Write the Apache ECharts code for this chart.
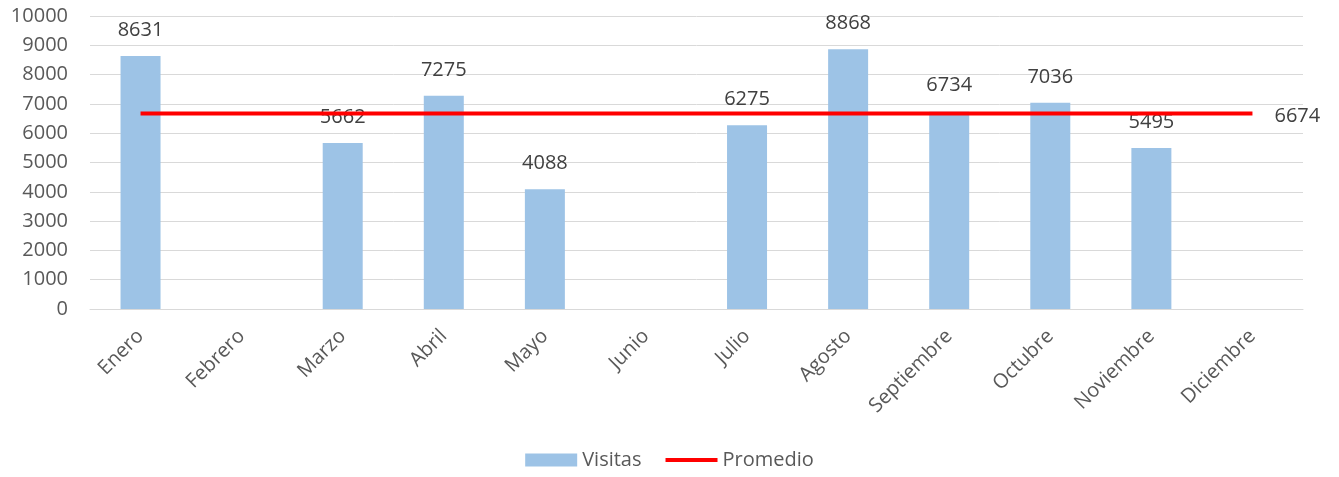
<!DOCTYPE html>
<html>
<head>
<meta charset="utf-8">
<script src="https://cdn.jsdelivr.net/npm/echarts@6/dist/echarts.min.js"></script>
<style>
  html, body { margin: 0; padding: 0; background: #fff; }
  #chart { width: 1339px; height: 477px; }
</style>
</head>
<body>
<div id="chart"></div>
<script>
const months = ['Enero', 'Febrero', 'Marzo', 'Abril', 'Mayo', 'Junio', 'Julio', 'Agosto',
  'Septiembre', 'Octubre', 'Noviembre', 'Diciembre']
const visitas = [8631, null, 5662, 7275, 4088, null, 6275, 8868, 6734, 7036, 5495, null]
const promedio = [6674, 6674, 6674, 6674, 6674, 6674, 6674, 6674, 6674, 6674, 6674, 6674]
const yTicks = { min: 0, max: 10000, interval: 1000 }

const textColor = '#595959'
const labelColor = '#404040'
const font = '"Open Sans", sans-serif'
const fs = 20

const chart = echarts.init(document.getElementById('chart'))

chart.setOption({
  animation: false,
  textStyle: { fontFamily: font },
  grid: { left: 90, right: 36, top: 16, bottom: 168, containLabel: false },
  legend: {
    bottom: 2,
    left: 'center',
    itemGap: 24,
    itemWidth: 52,
    itemHeight: 13,
    textStyle: { color: textColor, fontSize: fs, fontFamily: font },
    data: [
      { name: 'Visitas', icon: 'rect' },
      { name: 'Promedio', icon: 'path://M0,0 L54,0 L54,4 L0,4 Z' },
    ],
  },
  xAxis: {
    type: 'category',
    data: months,
    axisLine: { lineStyle: { color: '#D9D9D9', width: 1 } },
    axisTick: { show: false },
    axisLabel: { rotate: 45, margin: 24, color: textColor, fontSize: fs, fontFamily: font, interval: 0 },
  },
  yAxis: {
    type: 'value',
    min: yTicks.min,
    max: yTicks.max,
    interval: yTicks.interval,
    axisLine: { show: false },
    axisTick: { show: false },
    axisLabel: { color: textColor, fontSize: fs, fontFamily: font, margin: 22, formatter: (v) => String(v) },
    splitLine: { lineStyle: { color: '#D9D9D9', width: 1 } },
  },
  series: [
    {
      name: 'Visitas',
      type: 'bar',
      data: visitas,
      barWidth: 40,
      itemStyle: { color: '#9DC3E6' },
      label: {
        show: true,
        position: 'top',
        distance: 16,
        color: labelColor,
        fontSize: fs,
        fontFamily: font,
      },
      z: 2,
    },
    {
      name: 'Promedio',
      type: 'line',
      data: promedio,
      symbol: 'none',
      lineStyle: { color: '#FF0000', width: 4 },
      itemStyle: { color: '#FF0000' },
      endLabel: {
        show: true,
        distance: 22,
        color: labelColor,
        fontSize: fs,
        fontFamily: font,
        offset: [0, 3],
        formatter: (p) => String(p.value),
      },
      z: 3,
    },
  ],
})
</script>
</body>
</html>
